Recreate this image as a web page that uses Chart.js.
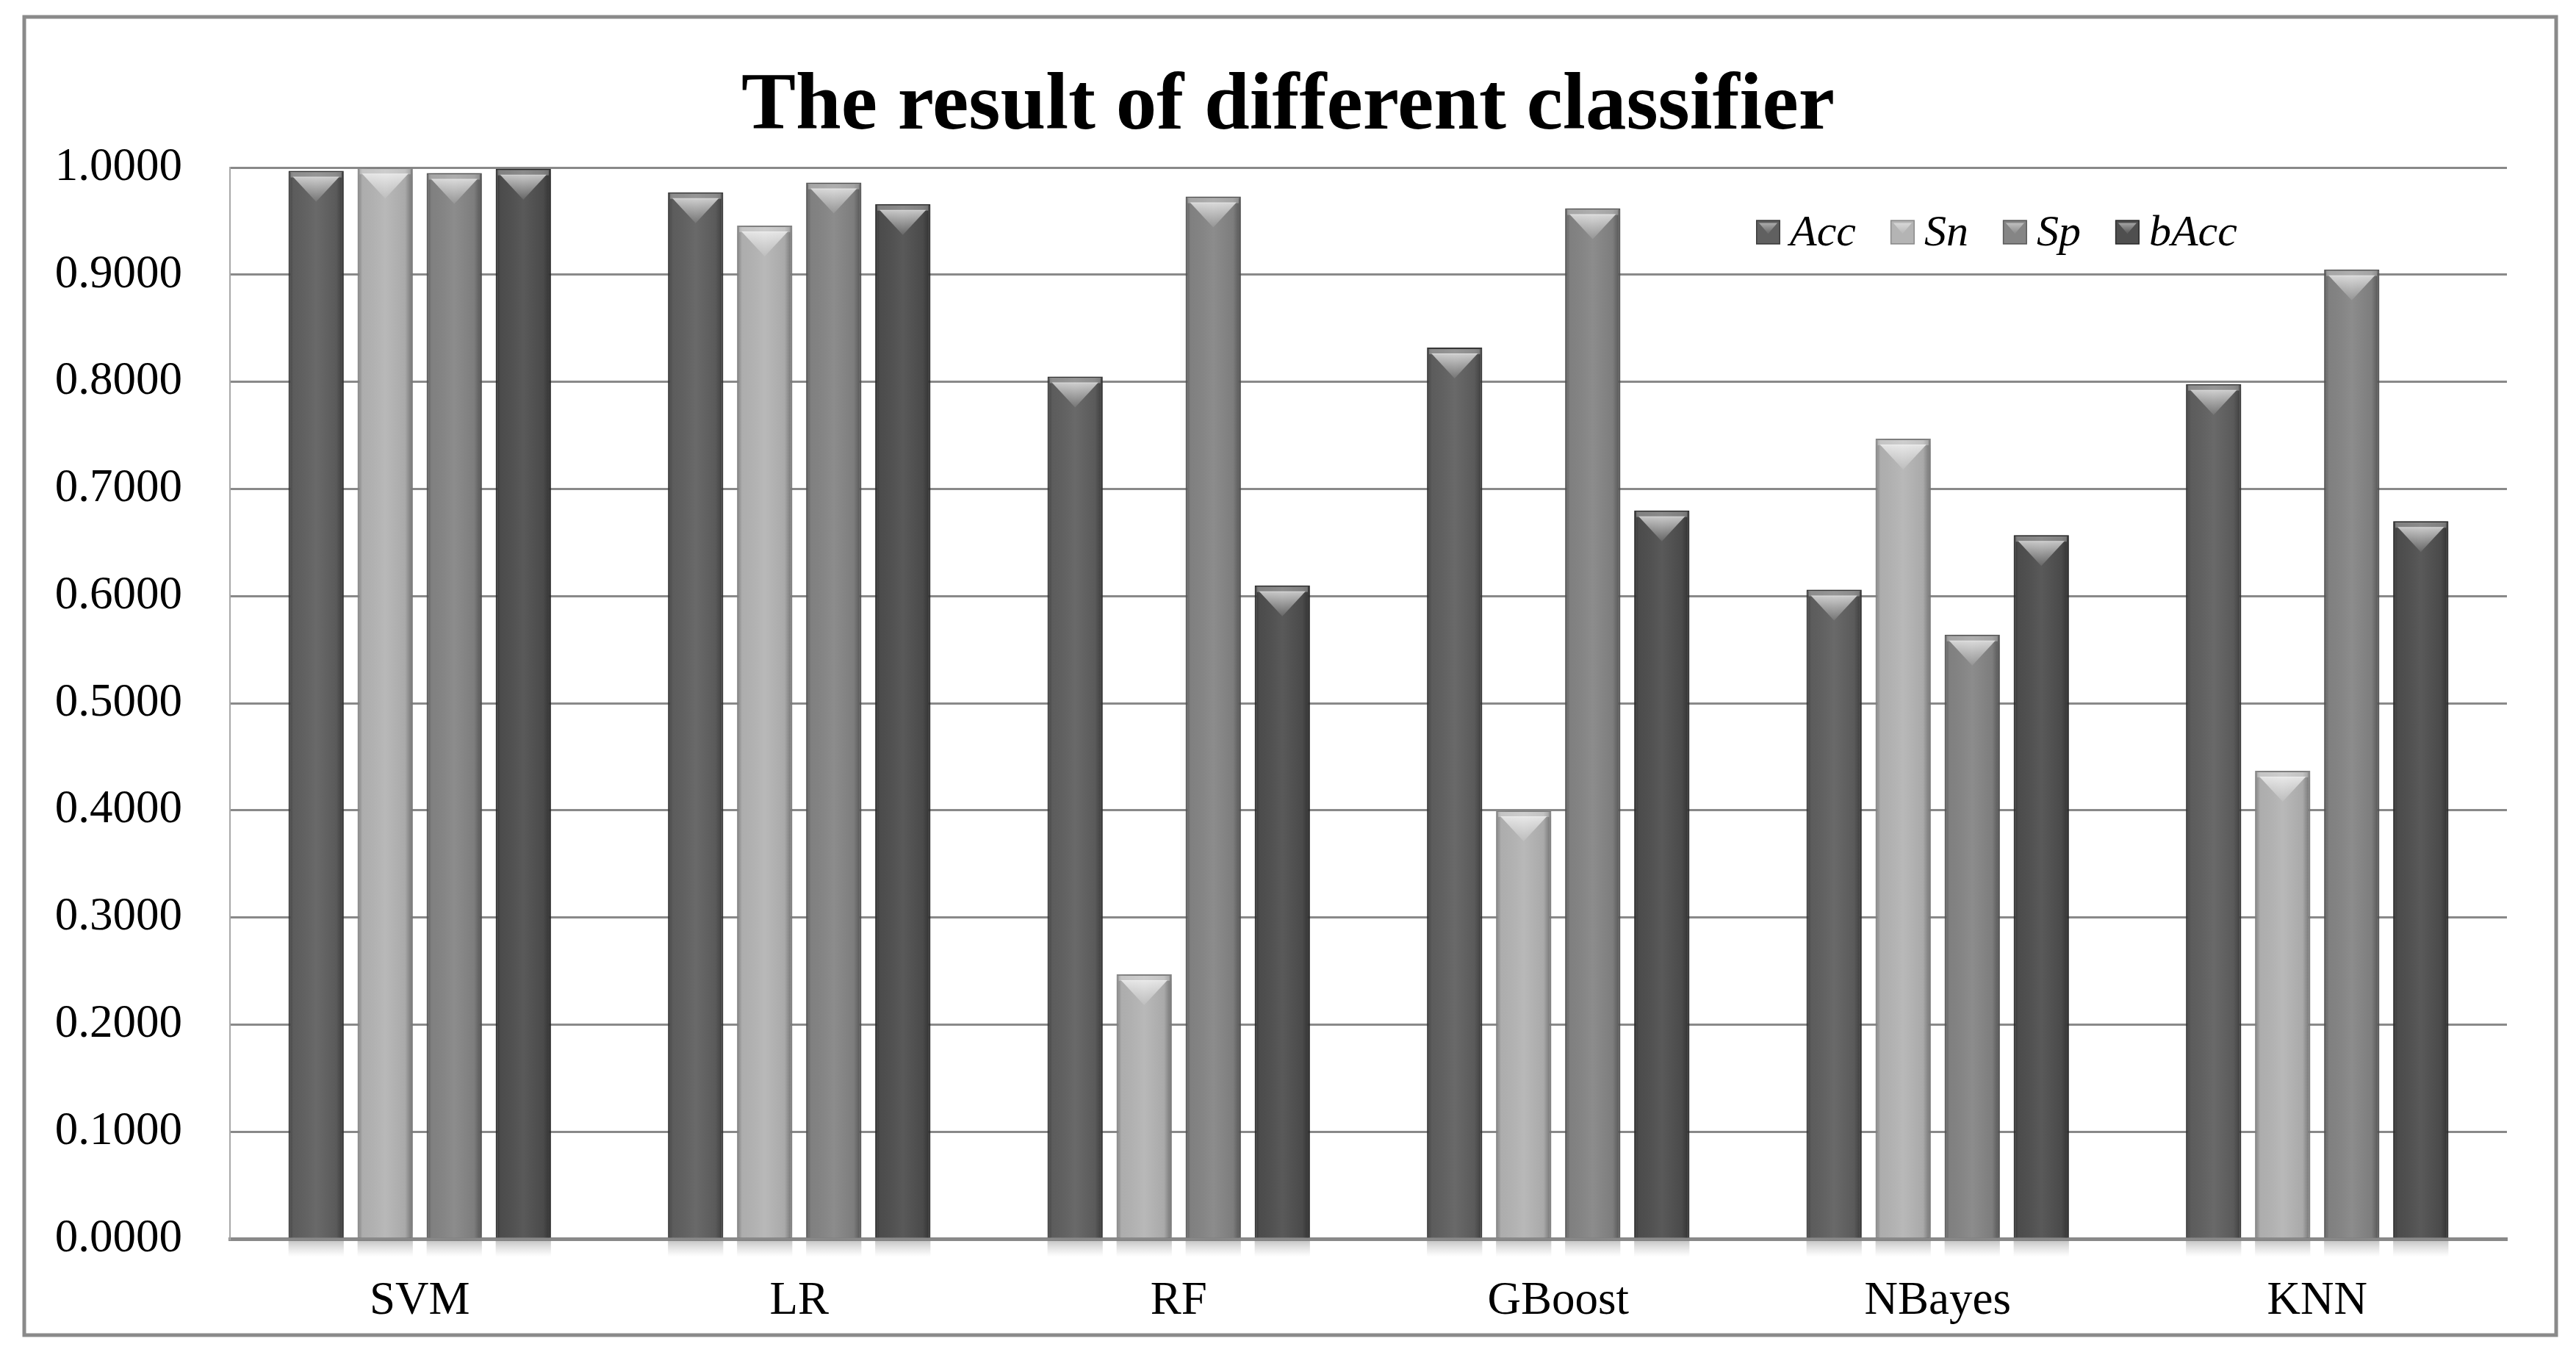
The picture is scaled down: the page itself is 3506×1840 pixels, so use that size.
<!DOCTYPE html>
<html>
<head>
<meta charset="utf-8">
<script src="https://cdn.jsdelivr.net/npm/chart.js@4.4.1/dist/chart.umd.min.js"></script>
<style>
  html, body { margin: 0; padding: 0; background: #fff; }
  canvas { display: block; }
</style>
</head>
<body>
<canvas id="c" width="3506" height="1840"></canvas>
<script>
// ---- data ----
const categories = ['SVM', 'LR', 'RF', 'GBoost', 'NBayes', 'KNN'];
const seriesNames = ['Acc', 'Sn', 'Sp', 'bAcc'];
const accValues  = [0.997, 0.977, 0.805, 0.832, 0.606, 0.798];
const snValues   = [1.000, 0.946, 0.247, 0.400, 0.747, 0.437];
const spValues   = [0.995, 0.986, 0.973, 0.962, 0.564, 0.905];
const baccValues = [0.999, 0.966, 0.610, 0.680, 0.657, 0.670];
const yTickLabels = ['0.0000','0.1000','0.2000','0.3000','0.4000','0.5000','0.6000','0.7000','0.8000','0.9000','1.0000'];
const titleText = 'The result of different classifier';

// ---- styles ----
const fills   = ['#606060', '#b4b4b4', '#858585', '#4f4f4f'];
const borders = ['#3c3c3c', '#8c8c8c', '#5c5c5c', '#2e2e2e'];

const frame = {
  id: 'frame',
  beforeDraw(chart) {
    const ctx = chart.ctx;
    ctx.save();
    ctx.fillStyle = '#fff';
    ctx.fillRect(0, 0, chart.width, chart.height);
    ctx.strokeStyle = '#8a8a8a';
    ctx.lineWidth = 5;
    ctx.strokeRect(33, 23, 3446, 1794);
    ctx.restore();
  }
};

const barLook = {
  id: 'barLook',
  beforeDatasetsDraw(chart) {
    const ctx = chart.ctx;
    ctx.save();
    ctx.shadowColor = 'rgba(0,0,0,0.22)';
    ctx.shadowBlur = 18;
    ctx.shadowOffsetX = 3;
    ctx.shadowOffsetY = 0;
  },
  afterDatasetsDraw(chart) {
    const ctx = chart.ctx;
    ctx.restore();
    ctx.save();
    chart.data.datasets.forEach((ds, di) => {
      const meta = chart.getDatasetMeta(di);
      meta.data.forEach((bar) => {
        const w = bar.width, l = bar.x - w / 2, r = bar.x + w / 2;
        const top = bar.y, base = bar.base;
        // side shading
        const g = ctx.createLinearGradient(l, 0, r, 0);
        g.addColorStop(0, 'rgba(0,0,0,0.30)');
        g.addColorStop(0.09, 'rgba(0,0,0,0.04)');
        g.addColorStop(0.5, 'rgba(255,255,255,0.06)');
        g.addColorStop(0.86, 'rgba(0,0,0,0.06)');
        g.addColorStop(1, 'rgba(0,0,0,0.38)');
        ctx.fillStyle = g;
        ctx.fillRect(l + 2, top + 2, w - 4, base - top - 2);
        // top bevel band
        ctx.fillStyle = 'rgba(255,255,255,0.30)';
        ctx.fillRect(l + 3, top + 2, w - 6, 7);
        // chevron
        const depth = 34;
        const cg = ctx.createLinearGradient(0, top + 7, 0, top + 7 + depth);
        cg.addColorStop(0, 'rgba(255,255,255,0.70)');
        cg.addColorStop(1, 'rgba(255,255,255,0.10)');
        ctx.fillStyle = cg;
        ctx.beginPath();
        ctx.moveTo(l + 6, top + 8);
        ctx.lineTo(r - 6, top + 8);
        ctx.lineTo(bar.x, top + 8 + depth);
        ctx.closePath();
        ctx.fill();
        // reflection below base
        const rg = ctx.createLinearGradient(0, base + 3, 0, base + 26);
        rg.addColorStop(0, 'rgba(120,120,120,0.45)');
        rg.addColorStop(1, 'rgba(160,160,160,0)');
        ctx.fillStyle = rg;
        ctx.fillRect(l, base + 3, w, 23);
      });
    });
    ctx.restore();
  }
};

const innerLegend = {
  id: 'innerLegend',
  afterDraw(chart, args, opts) {
    const ctx = chart.ctx;
    ctx.save();
    ctx.font = 'italic ' + opts.fontSize + 'px "Liberation Serif"';
    ctx.textBaseline = 'middle';
    ctx.textAlign = 'left';
    let x = opts.x;
    const cy = opts.y, b = opts.box;
    chart.data.datasets.forEach((ds) => {
      ctx.fillStyle = ds.backgroundColor;
      ctx.fillRect(x, cy - b / 2, b, b);
      ctx.strokeStyle = ds.borderColor;
      ctx.lineWidth = 1.5;
      ctx.strokeRect(x + 0.75, cy - b / 2 + 0.75, b - 1.5, b - 1.5);
      const cg = ctx.createLinearGradient(0, cy - b / 2, 0, cy);
      cg.addColorStop(0, 'rgba(255,255,255,0.6)');
      cg.addColorStop(1, 'rgba(255,255,255,0.1)');
      ctx.fillStyle = cg;
      ctx.beginPath();
      ctx.moveTo(x + 4, cy - b / 2 + 4);
      ctx.lineTo(x + b - 4, cy - b / 2 + 4);
      ctx.lineTo(x + b / 2, cy + 2);
      ctx.closePath();
      ctx.fill();
      ctx.fillStyle = '#000';
      const tx = x + b + opts.gap;
      ctx.fillText(ds.label, tx, cy + 2);
      x = tx + ctx.measureText(ds.label).width + opts.itemGap;
    });
    ctx.restore();
  }
};

const seriesValues = [accValues, snValues, spValues, baccValues];
const datasets = seriesNames.map((name, i) => ({
  label: name,
  data: seriesValues[i],
  backgroundColor: fills[i],
  borderColor: borders[i],
  borderWidth: 2,
  categoryPercentage: 0.728,
  barPercentage: 0.8
}));

new Chart(document.getElementById('c'), {
  type: 'bar',
  data: { labels: categories, datasets },
  options: {
    responsive: false,
    animation: false,
    devicePixelRatio: 1,
    layout: { padding: { left: 0, right: 0, top: 0, bottom: 0 } },
    plugins: {
      legend: { display: false },
      tooltip: { enabled: false },
      title: {
        display: true,
        text: titleText,
        color: '#000',
        font: { family: '"Liberation Serif"', size: 111, weight: 'bold', lineHeight: 1.2 },
        padding: { top: 80, bottom: 15 }
      },
      innerLegend: { x: 2390, y: 316, box: 33, gap: 13, itemGap: 47, fontSize: 60 }
    },
    scales: {
      x: {
        grid: { display: false },
        border: { display: true, color: '#898989', width: 5 },
        ticks: { color: '#000', padding: 40, font: { family: '"Liberation Serif"', size: 63 } },
        afterFit(scale) { scale.height = 154; }
      },
      y: {
        min: 0, max: 1,
        ticks: {
          stepSize: 0.1,
          color: '#000',
          padding: 65,
          font: { family: '"Liberation Serif"', size: 63 },
          callback: (v, i) => yTickLabels[i]
        },
        grid: { color: '#898989', lineWidth: 3, drawTicks: false },
        border: { display: true, color: '#a8a8a8', width: 2 },
        afterFit(scale) { scale.width = 313; }
      },
      yRight: {
        position: 'right',
        min: 0, max: 1,
        grid: { display: false, drawTicks: false },
        border: { display: false },
        ticks: { display: false },
        afterFit(scale) { scale.width = 94; }
      }
    }
  },
  plugins: [frame, barLook, innerLegend]
});
</script>
</body>
</html>
